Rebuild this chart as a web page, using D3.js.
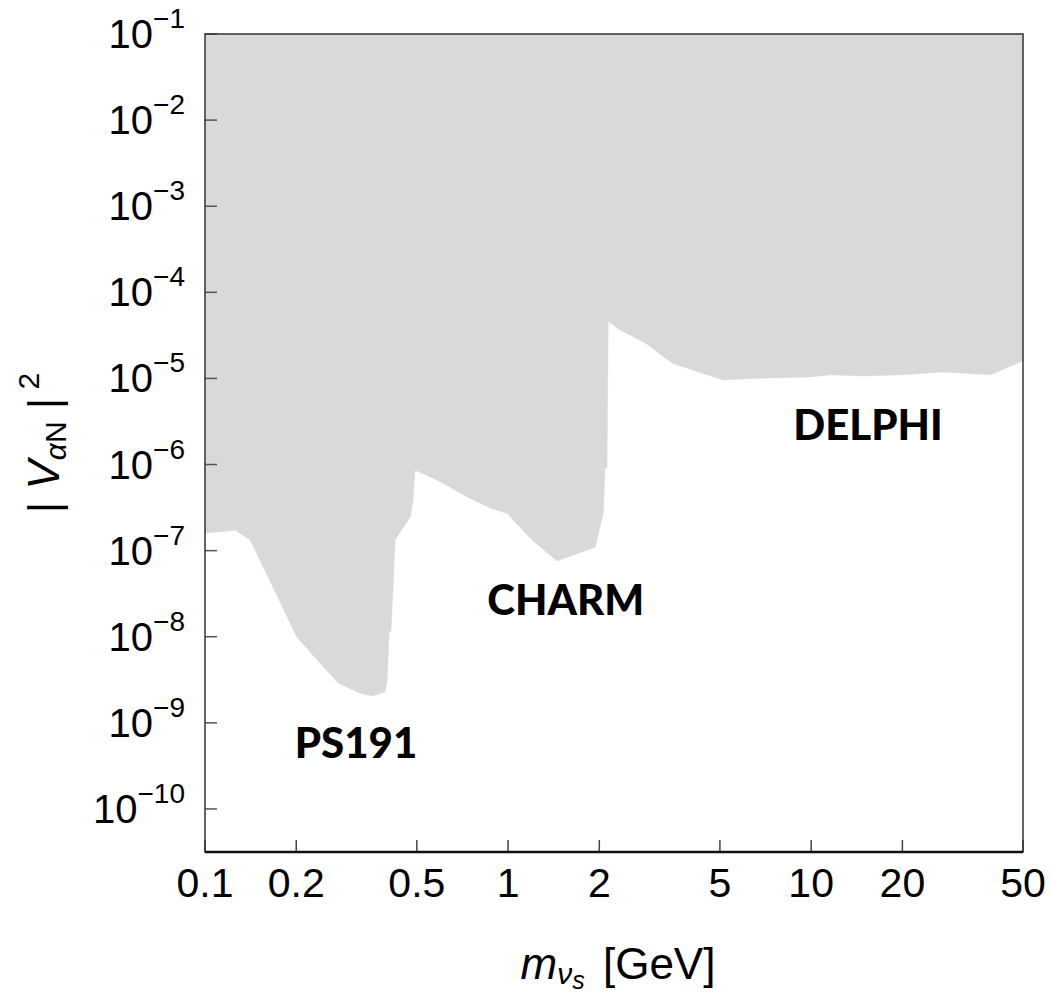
<!DOCTYPE html>
<html>
<head>
<meta charset="utf-8">
<script src="https://cdn.jsdelivr.net/npm/d3@7"></script>
<style>
  body { margin: 0; background: #fff; }
  text { font-family: "Liberation Sans", Arial, sans-serif; }
</style>
</head>
<body>
<div id="chart"></div>
<script>
// excluded region boundary: mass [GeV] vs |V|^2 upper limit
const massGeV = [0.1, 0.126, 0.141, 0.201, 0.231, 0.275, 0.325, 0.358, 0.393, 0.399, 0.405, 0.411,
  0.424, 0.440, 0.476, 0.486, 0.493, 0.583, 0.733, 0.859, 0.993, 1.20, 1.45, 1.94, 2.06, 2.09,
  2.12, 2.14, 2.31, 2.83, 3.48, 5.13, 6.44, 9.93, 11.6, 14.9, 20.1, 27.3, 39.0, 50];
const mixing = [1.6e-7, 1.73e-7, 1.33e-7, 9.9e-9, 5.7e-9, 2.9e-9, 2.2e-9, 2.05e-9, 2.3e-9, 3.1e-9, 1.16e-8, 1.16e-8,
  1.33e-7, 1.64e-7, 2.45e-7, 3.9e-7, 8.6e-7, 6.6e-7, 4.2e-7, 3.2e-7, 2.7e-7, 1.33e-7, 7.6e-8, 1.1e-7, 2.7e-7, 9.1e-7,
  9.1e-7, 4.6e-5, 3.75e-5, 2.6e-5, 1.5e-5, 9.6e-6, 1.0e-5, 1.04e-5, 1.1e-5, 1.07e-5, 1.1e-5, 1.19e-5, 1.1e-5, 1.6e-5];

const xTicks = [0.1, 0.2, 0.5, 1, 2, 5, 10, 20, 50];
const xTickLabels = ["0.1", "0.2", "0.5", "1", "2", "5", "10", "20", "50"];
const yExponents = [-1, -2, -3, -4, -5, -6, -7, -8, -9, -10];

const experiments = ["PS191", "CHARM", "DELPHI"];
const expMass = [0.315, 1.55, 15.4];
const expMixing = [3.9e-10, 1.8e-8, 1.93e-6];

const W = 1051, H = 993;
const margin = {top: 34, right: 28, bottom: 141, left: 205};
const width = W - margin.left - margin.right;
const height = H - margin.top - margin.bottom;

const svg = d3.select("#chart")
  .append("svg")
  .attr("width", W)
  .attr("height", H)
  .append("g")
  .attr("transform", "translate(" + margin.left + "," + margin.top + ")");

const x = d3.scaleLog().domain([0.1, 50]).range([0, width]);
const y = d3.scaleLog().domain([Math.pow(10, -10.5), 1e-1]).range([height, 0]);

const pts = massGeV.map((m, i) => [m, mixing[i]]);

const area = d3.area()
  .x(d => x(d[0]))
  .y0(0)
  .y1(d => y(d[1]));

svg.append("path")
  .attr("d", area(pts))
  .attr("fill", "#d9d9d9")
  .attr("stroke", "#d9d9d9")
  .attr("stroke-width", 0.5);

// ticks (inside)
svg.append("g")
  .selectAll("line")
  .data(xTicks)
  .enter().append("line")
  .attr("x1", d => x(d)).attr("x2", d => x(d))
  .attr("y1", height).attr("y2", height - 12)
  .attr("stroke", "#444").attr("stroke-width", 1.5);

svg.append("g")
  .selectAll("line")
  .data(yExponents)
  .enter().append("line")
  .attr("x1", 0).attr("x2", 12)
  .attr("y1", d => y(Math.pow(10, d))).attr("y2", d => y(Math.pow(10, d)))
  .attr("stroke", "#555").attr("stroke-width", 1.5);

// frame
svg.append("rect")
  .attr("x", 0).attr("y", 0)
  .attr("width", width).attr("height", height)
  .attr("fill", "none")
  .attr("stroke", "#333")
  .attr("stroke-width", 1.5);
svg.append("line")
  .attr("x1", 0).attr("x2", width)
  .attr("y1", height).attr("y2", height)
  .attr("stroke", "#111").attr("stroke-width", 2.5);

// x tick labels
svg.append("g")
  .selectAll("text")
  .data(xTicks)
  .enter().append("text")
  .attr("x", d => x(d))
  .attr("y", height + 45)
  .attr("text-anchor", "middle")
  .style("font-size", "41px")
  .text((d, i) => xTickLabels[i]);

// y tick labels 10^n
const yl = svg.append("g")
  .selectAll("text")
  .data(yExponents)
  .enter().append("text")
  .attr("x", -20)
  .attr("y", d => y(Math.pow(10, d)) + 14)
  .attr("text-anchor", "end")
  .style("font-size", "40px");
yl.append("tspan").text("10");
yl.append("tspan")
  .attr("dy", -20)
  .style("font-size", "28px")
  .text(d => "\u2212" + Math.abs(d));

// region labels
svg.append("g")
  .selectAll("text")
  .data(experiments)
  .enter().append("text")
  .attr("x", (d, i) => x(expMass[i]))
  .attr("y", (d, i) => y(expMixing[i]))
  .attr("text-anchor", "middle")
  .style("font-family", "Lato, 'DejaVu Sans', sans-serif")
  .style("font-weight", "900")
  .style("font-size", "42px")
  .text(d => d);

// axis titles
const xt = svg.append("text")
  .attr("x", width / 2 + 4)
  .attr("y", height + 127)
  .attr("text-anchor", "middle")
  .style("font-size", "44px");
xt.append("tspan").style("font-style", "italic").text("m");
xt.append("tspan").attr("dy", 5).style("font-style", "italic").style("font-size", "30px").text("\u03bd");
xt.append("tspan").attr("dy", 5).style("font-style", "italic").style("font-size", "25px").text("s");
xt.append("tspan").attr("dy", -10).attr("dx", 6).text(" [GeV]");

const yt = svg.append("text")
  .attr("transform", "translate(" + (-146) + "," + (409) + ") rotate(-90)")
  .attr("text-anchor", "middle")
  .style("font-size", "44px");
yt.append("tspan").text("| ");
yt.append("tspan").style("font-style", "italic").text("V");
yt.append("tspan").attr("dy", 7).style("font-size", "30px").style("font-style", "italic").text("\u03b1");
yt.append("tspan").style("font-size", "30px").text("N");
yt.append("tspan").attr("dy", -7).text(" |");
yt.append("tspan").attr("dy", -20).style("font-size", "30px").text(" 2");
</script>
</body>
</html>
